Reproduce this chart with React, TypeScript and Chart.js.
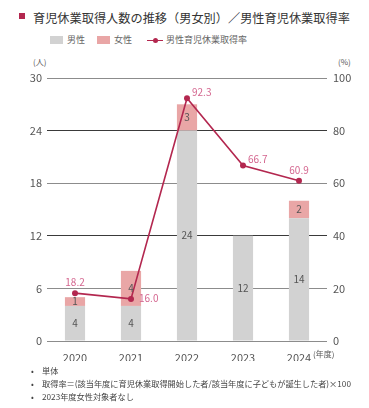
import React, { useEffect, useRef } from "react";
import { Chart, registerables } from "chart.js";

Chart.register(...registerables);

const years = ["2020", "2021", "2022", "2023", "2024"];
const maleCounts = [4, 4, 24, 12, 14];
const femaleCounts = [1, 4, 3, 0, 2];
const maleRate = [18.2, 16.0, 92.3, 66.7, 60.9];
const rateLabelPlacement = ["top", "right", "topRight", "topRight", "top"];
const leftTicks = [0, 6, 12, 18, 24, 30];
const rightTicks = [0, 20, 40, 60, 80, 100];
const notes = [
  "単体",
  "取得率＝(該当年度に育児休業取得開始した者/該当年度に子どもが誕生した者)×100",
  "2023年度女性対象者なし",
];

const FONT = "'Noto Sans CJK JP', 'Noto Sans', sans-serif";
const MALE_COLOR = "#d2d2d2";
const FEMALE_COLOR = "#e9a6a6";
const LINE_COLOR = "#b3274f";
const RATE_LABEL_COLOR = "#d4668f";

const labelPlugin = {
  id: "valueLabels",
  afterDatasetsDraw(chart: any) {
    const ctx = chart.ctx;
    ctx.save();
    ctx.font = `10px ${FONT}`;
    ctx.textAlign = "center";
    ctx.textBaseline = "middle";
    ctx.fillStyle = "#555";
    [0, 1].forEach((di) => {
      const meta = chart.getDatasetMeta(di);
      const data = chart.data.datasets[di].data as number[];
      meta.data.forEach((bar: any, i: number) => {
        if (!data[i]) return;
        const y = (bar.y + bar.base) / 2;
        ctx.fillText(String(data[i]), bar.x, y);
      });
    });
    const lm = chart.getDatasetMeta(2);
    ctx.fillStyle = RATE_LABEL_COLOR;
    lm.data.forEach((pt: any, i: number) => {
      const txt = maleRate[i].toFixed(1);
      const p = rateLabelPlacement[i];
      if (p === "top") {
        ctx.textAlign = "center";
        ctx.fillText(txt, pt.x, pt.y - 11);
      } else if (p === "right") {
        ctx.textAlign = "left";
        ctx.fillText(txt, pt.x + 8, pt.y - 1);
      } else {
        ctx.textAlign = "left";
        ctx.fillText(txt, pt.x + 5, pt.y - 6);
      }
    });
    ctx.restore();
  },
};

function ChartCanvas() {
  const ref = useRef<HTMLCanvasElement>(null);
  useEffect(() => {
    if (!ref.current) return;
    const chart = new Chart(ref.current, {
      type: "bar",
      data: {
        labels: years,
        datasets: [
          {
            type: "bar",
            label: "男性",
            data: maleCounts,
            backgroundColor: MALE_COLOR,
            yAxisID: "y",
            stack: "s",
            order: 2,
            barPercentage: 0.36,
            categoryPercentage: 1,
          },
          {
            type: "bar",
            label: "女性",
            data: femaleCounts,
            backgroundColor: FEMALE_COLOR,
            yAxisID: "y",
            stack: "s",
            order: 2,
            barPercentage: 0.36,
            categoryPercentage: 1,
          },
          {
            type: "line",
            label: "男性育児休業取得率",
            data: maleRate,
            borderColor: LINE_COLOR,
            backgroundColor: LINE_COLOR,
            borderWidth: 1.6,
            pointRadius: 3,
            pointBackgroundColor: LINE_COLOR,
            pointBorderWidth: 0,
            yAxisID: "y1",
            order: 0,
          } as any,
        ],
      },
      options: {
        animation: false,
        responsive: false,
        maintainAspectRatio: false,
        layout: { padding: { top: 18, left: 0, right: 0, bottom: 0 } },
        plugins: { legend: { display: false }, tooltip: { enabled: false } },
        scales: {
          x: {
            stacked: true,
            grid: { display: false },
            border: { display: false },
            ticks: { color: "#555", font: { family: FONT, size: 11 }, padding: 2 },
            afterFit: (s: any) => {
              s.height = 20;
            },
          },
          y: {
            position: "left",
            stacked: true,
            min: 0,
            max: 30,
            afterBuildTicks: (s: any) => {
              s.ticks = leftTicks.map((v) => ({ value: v }));
            },
            grid: {
              drawTicks: false,
              color: (c: any) =>
                c.tick && (c.tick.value === 12 || c.tick.value === 24) ? "#3a3a3a" : "#8c8c8c",
              lineWidth: 1,
            },
            border: { display: false },
            ticks: { color: "#555", font: { family: FONT, size: 11 }, padding: 5 },
            afterFit: (s: any) => {
              s.width = 47;
            },
          },
          y1: {
            position: "right",
            min: 0,
            max: 100,
            afterBuildTicks: (s: any) => {
              s.ticks = rightTicks.map((v) => ({ value: v }));
            },
            grid: { display: false, drawTicks: false },
            border: { display: false },
            ticks: { color: "#555", font: { family: FONT, size: 11 }, padding: 6 },
            afterFit: (s: any) => {
              s.width = 42;
            },
          },
        },
      },
      plugins: [labelPlugin],
    });
    return () => chart.destroy();
  }, []);
  return (
    <canvas
      ref={ref}
      width={369}
      height={301}
      style={{ position: "absolute", left: 0, top: 60, width: 369, height: 301 }}
    />
  );
}

export default function App() {
  const small: React.CSSProperties = { position: "absolute", fontSize: 8, color: "#555", lineHeight: "10px", whiteSpace: "nowrap" };
  const note: React.CSSProperties = { position: "absolute", left: 42, fontSize: 8.2, color: "#444", lineHeight: "12px", whiteSpace: "nowrap" };
  const bullet: React.CSSProperties = { position: "absolute", left: 31, fontSize: 8.2, color: "#444", lineHeight: "12px" };
  const legendText: React.CSSProperties = { position: "absolute", top: 34, fontSize: 9, color: "#666", lineHeight: "12px", whiteSpace: "nowrap" };
  return (
    <div
      style={{
        position: "fixed",
        left: 0,
        top: 0,
        width: 369,
        height: 408,
        overflow: "hidden",
        background: "#fff",
        fontFamily: FONT,
      }}
    >
      <div style={{ position: "absolute", left: 19, top: 13, width: 6, height: 6, background: LINE_COLOR }} />
      <div style={{ position: "absolute", left: 33, top: 9, fontSize: 12.2, color: "#333", lineHeight: "18px", whiteSpace: "nowrap" }}>
        育児休業取得人数の推移（男女別）／男性育児休業取得率
      </div>
      <div style={{ position: "absolute", left: 50, top: 36, width: 13, height: 8, background: MALE_COLOR }} />
      <div style={{ ...legendText, left: 67 }}>男性</div>
      <div style={{ position: "absolute", left: 97, top: 36, width: 13, height: 8, background: FEMALE_COLOR }} />
      <div style={{ ...legendText, left: 114 }}>女性</div>
      <div style={{ position: "absolute", left: 147, top: 39.5, width: 16, height: 1.6, background: LINE_COLOR }} />
      <div style={{ position: "absolute", left: 152.5, top: 37.5, width: 5, height: 5, borderRadius: 3, background: LINE_COLOR }} />
      <div style={{ ...legendText, left: 166 }}>男性育児休業取得率</div>
      <div style={{ ...small, left: 33, top: 57 }}>(人)</div>
      <div style={{ ...small, left: 338, top: 57 }}>(%)</div>
      <ChartCanvas />
      <div style={{ ...small, left: 313, top: 349 }}>(年度)</div>
      {notes.map((n, i) => (
        <React.Fragment key={i}>
          <div style={{ ...bullet, top: 364 + i * 13 }}>•</div>
          <div style={{ ...note, top: 364 + i * 13 }}>{n}</div>
        </React.Fragment>
      ))}
    </div>
  );
}
